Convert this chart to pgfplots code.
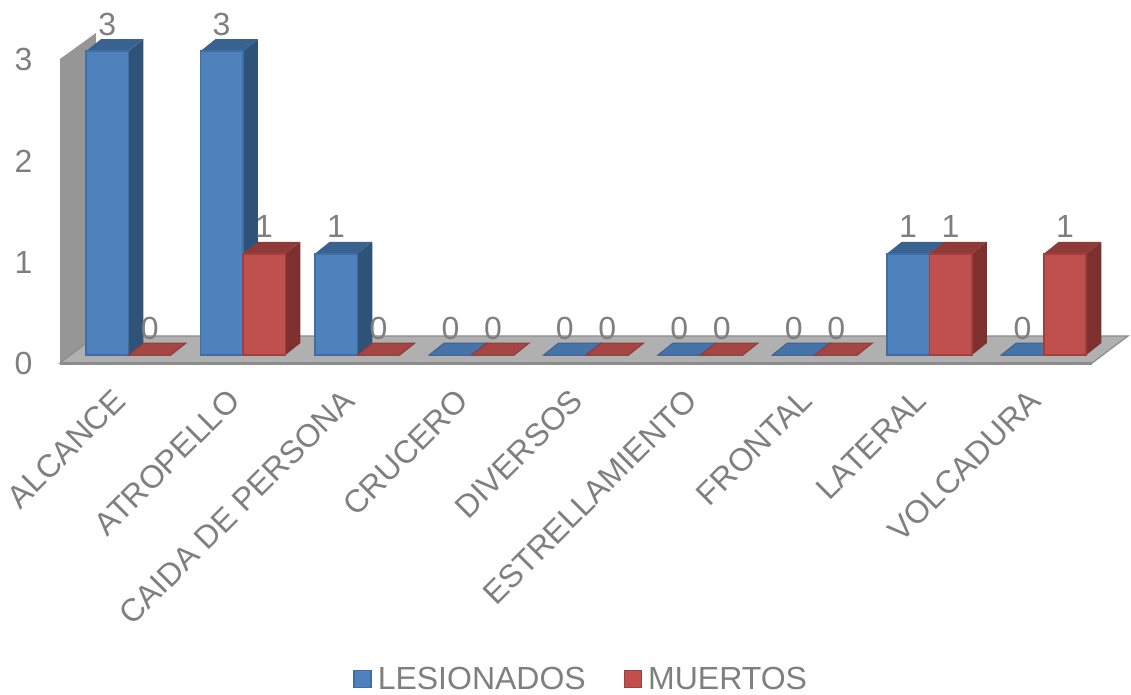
\documentclass[border=0pt]{standalone}
\usepackage{pgfplots}
\pgfplotsset{compat=1.18}
\usepackage{fontspec}
\setmainfont{Liberation Sans}

\definecolor{lblgray}{HTML}{7F7F7F}
\definecolor{wall}{HTML}{969696}
\definecolor{floorc}{HTML}{B0B0B0}
\definecolor{edge}{HTML}{8C8C8C}
\definecolor{bluefront}{HTML}{4F81BD}
\definecolor{blueline}{HTML}{3F6DA6}
\definecolor{blueside}{HTML}{2F5279}
\definecolor{bluetop}{HTML}{3A6291}
\definecolor{blueflat}{HTML}{4673A8}
\definecolor{redfront}{HTML}{C0504D}
\definecolor{redline}{HTML}{A03F3C}
\definecolor{redside}{HTML}{7D302E}
\definecolor{redtop}{HTML}{8D3A38}
\definecolor{redflat}{HTML}{A54644}

\newcommand{\lblfont}{\fontsize{32}{36}\selectfont}

\pgfplotsset{barlabel/.style={nodes near coords,point meta=y,
    every node near coord/.append style={font=\lblfont,text=lblgray,anchor=center,yshift=27pt}}}

% #1 left edge, #2 value, #3 colour prefix
\newcommand{\threedbar}[3]{%
  \addplot[forget plot,draw=none,fill=#3side] coordinates {(#1+0.3715,0) (#1+0.5025,0.118) (#1+0.5025,#2+0.118) (#1+0.3715,#2)} --cycle;
  \addplot[forget plot,draw=none,fill=#3top] coordinates {(#1,#2) (#1+0.3715,#2) (#1+0.5025,#2+0.118) (#1+0.131,#2+0.118)} --cycle;
  \addplot[forget plot,ybar,bar width=0.3715,bar shift=0pt,draw=#3line,line width=1.6pt,fill=#3front,barlabel]
    coordinates {(#1+0.18575,#2)};
}
% bar of value zero, only a flat plate on the floor
\newcommand{\flatbar}[3]{%
  \addplot[forget plot,draw=#3top,line width=1pt,fill=#3flat] coordinates {(#1,#2) (#1+0.3715,#2) (#1+0.5025,#2+0.118) (#1+0.131,#2+0.118)} --cycle;
  \addplot[forget plot,ybar,bar width=0.3715,bar shift=0pt,draw=#3top,line width=1pt,barlabel]
    coordinates {(#1+0.18575,#2)};
}

\begin{document}
\begin{tikzpicture}
\useasboundingbox (-60pt,-331pt) rectangle (1071pt,363pt);
\begin{axis}[
  width=1068pt,
  height=330pt,
  scale only axis,
  clip=false,
  xmin=-0.227, xmax=9.108,
  ymin=-0.079, ymax=3.179,
  axis line style={draw=none},
  major tick length=0pt,
  /pgf/number format/assume math mode=true,
  ytick={0,1,2,3},
  yticklabel style={font=\lblfont,text=lblgray,xshift=-24pt,yshift=-8.5pt},
  xtick={0.372,1.372,2.372,3.372,4.372,5.372,6.372,7.372,8.372},
  xticklabels={ALCANCE,ATROPELLO,CAIDA DE PERSONA,CRUCERO,DIVERSOS,ESTRELLAMIENTO,FRONTAL,LATERAL,VOLCADURA},
  xticklabel style={font=\lblfont,text=lblgray,rotate=45,anchor=north east,inner sep=0pt,yshift=-5pt,xshift=-29pt},
  legend columns=2,
  legend style={at={(0.488,-0.958)},anchor=center,draw=none,fill=none,
    font=\lblfont,text=lblgray,
    /tikz/every even column/.append style={column sep=36pt},
    /tikz/every odd column/.append style={column sep=4pt}},
  legend image code/.code={\draw[#1] (0pt,-8.5pt) rectangle (17pt,8.5pt);},
]
% back wall and floor
\addplot[forget plot,draw=none,fill=wall] coordinates {(-0.227,-0.079) (-0.227,2.922) (0.087,3.179) (0.087,0.188)} --cycle;
\addplot[forget plot,draw=edge,line width=1.2pt,fill=floorc] coordinates {(-0.227,-0.079) (8.794,-0.079) (9.108,0.188) (0.087,0.188)} --cycle;
\addplot[forget plot,draw=edge,line width=3pt] coordinates {(-0.227,-0.079) (8.794,-0.079)};

\threedbar{0}{3}{blue}
\flatbar{0.3715}{0}{red}
\threedbar{1}{3}{blue}
\threedbar{1.3715}{1}{red}
\threedbar{2}{1}{blue}
\flatbar{2.3715}{0}{red}
\flatbar{3}{0}{blue}
\flatbar{3.3715}{0}{red}
\flatbar{4}{0}{blue}
\flatbar{4.3715}{0}{red}
\flatbar{5}{0}{blue}
\flatbar{5.3715}{0}{red}
\flatbar{6}{0}{blue}
\flatbar{6.3715}{0}{red}
\threedbar{7}{1}{blue}
\threedbar{7.3715}{1}{red}
\flatbar{8}{0}{blue}
\threedbar{8.3715}{1}{red}

\addlegendimage{draw=blueline,line width=1.4pt,fill=bluefront}
\addlegendentry{LESIONADOS}
\addlegendimage{draw=redline,line width=1.4pt,fill=redfront}
\addlegendentry{MUERTOS}
\end{axis}
\end{tikzpicture}
\end{document}
